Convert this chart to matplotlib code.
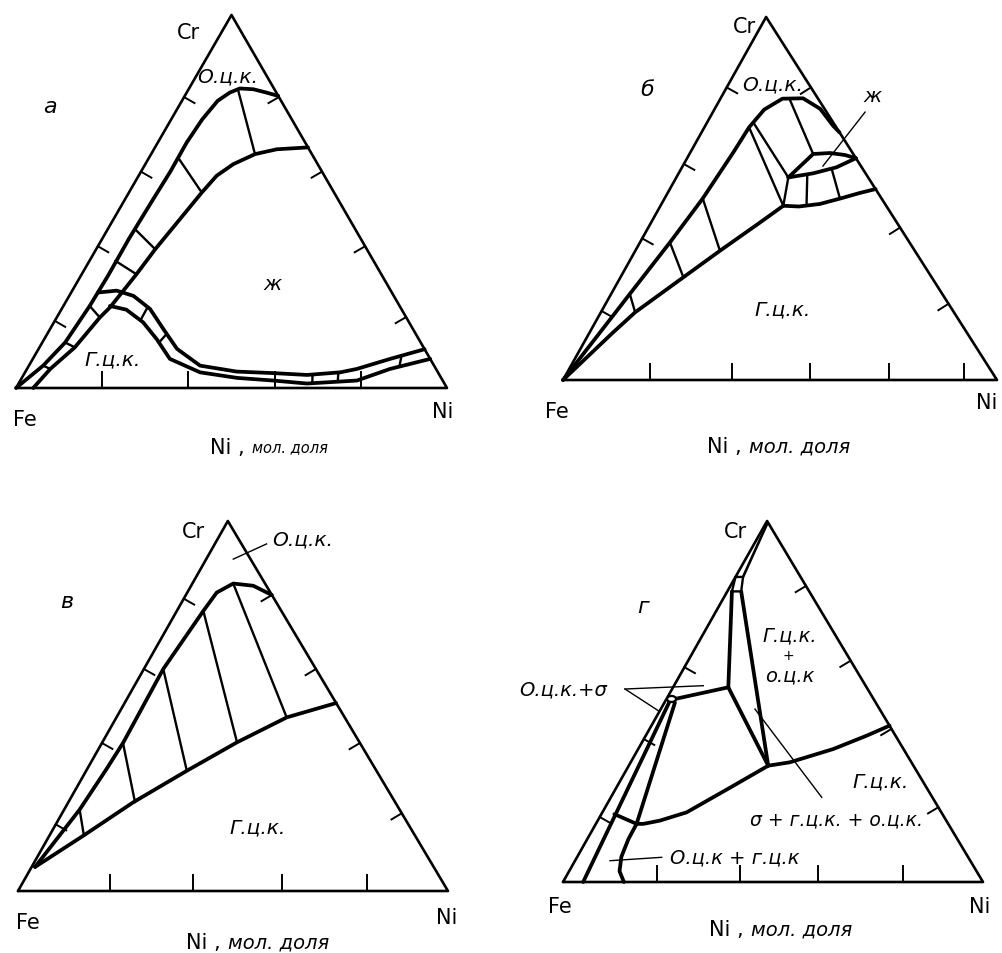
import numpy as np
import matplotlib
matplotlib.use("Agg")
import matplotlib.pyplot as plt
from matplotlib.patches import Ellipse

plt.rcParams['font.family'] = ['DejaVu Sans']

FIG_W, FIG_H = 1003, 954

# ---------------- DATA : points are (Ni, Cr) mole fractions ----------------
# panel а
A_BCC_SOL = [(0.0, 0.0), (0.033, 0.06), (0.053, 0.122), (0.061, 0.22), (0.063, 0.30), (0.062, 0.40),
             (0.065, 0.50), (0.068, 0.58), (0.067, 0.658), (0.072, 0.72), (0.083, 0.77), (0.10, 0.792),
             (0.118, 0.803), (0.15, 0.801), (0.185, 0.792), (0.217, 0.783)]
A_BCC_LIQ = [(0.04, 0.0), (0.054, 0.051), (0.082, 0.109), (0.100, 0.189), (0.110, 0.216), (0.127, 0.305),
             (0.137, 0.372), (0.169, 0.524), (0.181, 0.569), (0.204, 0.600), (0.241, 0.627), (0.285, 0.640),
             (0.355, 0.645)]
A_FCC_LIQ = [(0.062, 0.256), (0.103, 0.261), (0.149, 0.247), (0.205, 0.212), (0.263, 0.158), (0.321, 0.105),
             (0.397, 0.060), (0.49, 0.044), (0.576, 0.040), (0.658, 0.035), (0.731, 0.042), (0.765, 0.051),
             (0.829, 0.078), (0.896, 0.104)]
A_FCC_SOL = [(0.108, 0.22), (0.151, 0.21), (0.207, 0.176), (0.261, 0.131), (0.318, 0.078), (0.406, 0.042),
             (0.50, 0.027), (0.587, 0.02), (0.669, 0.012), (0.781, 0.02), (0.842, 0.051), (0.922, 0.078)]
A_TIES = [((0.115, 0.80), (0.241, 0.627)), ((0.067, 0.618), (0.169, 0.524)), ((0.063, 0.426), (0.137, 0.372)),
          ((0.060, 0.341), (0.127, 0.305)), ((0.061, 0.22), (0.100, 0.189)), ((0.053, 0.122), (0.082, 0.109)),
          ((0.033, 0.06), (0.054, 0.051)), ((0.197, 0.217), (0.198, 0.181)), ((0.277, 0.145), (0.271, 0.122)),
          ((0.670, 0.036), (0.681, 0.013)), ((0.727, 0.042), (0.738, 0.017)), ((0.851, 0.087), (0.861, 0.057))]
A_TICKS_BASE = [0.2, 0.4, 0.6, 0.8]
A_TICKS_LEFT = [0.18, 0.38, 0.58, 0.78]
A_TICKS_RIGHT = [0.19, 0.38, 0.58, 0.78]

# panel б
B_BCC_SOL = [(0.0, 0.0), (0.024, 0.131), (0.043, 0.237), (0.069, 0.379), (0.088, 0.50), (0.099, 0.627),
             (0.103, 0.696), (0.115, 0.745), (0.143, 0.775), (0.19, 0.776), (0.243, 0.747), (0.295, 0.70),
             (0.318, 0.682)]
B_BCC_FCC = [(0.0, 0.0), (0.054, 0.131), (0.079, 0.1865), (0.145, 0.283), (0.195, 0.356), (0.251, 0.434),
             (0.283, 0.48)]
B_FCC_LOWER = [(0.283, 0.48), (0.32, 0.478), (0.365, 0.485), (0.405, 0.50), (0.442, 0.515), (0.474, 0.526)]
B_3PH_1 = [(0.103, 0.696), (0.283, 0.48), (0.258, 0.558), (0.110, 0.706)]
B_LIQ_UPPER = [(0.258, 0.558), (0.285, 0.6226), (0.3225, 0.6253), (0.3597, 0.6198), (0.389, 0.611)]
B_LIQ_LOWER = [(0.258, 0.558), (0.31, 0.5694), (0.356, 0.586), (0.389, 0.611)]
B_TIES = [((0.043, 0.237), (0.079, 0.1865)), ((0.069, 0.379), (0.145, 0.283)), ((0.088, 0.50), (0.195, 0.356)),
          ((0.159, 0.775), (0.285, 0.6226)), ((0.298, 0.566), (0.336, 0.481)), ((0.3466, 0.582), (0.4027, 0.502))]
B_TICKS_BASE = [0.2, 0.389, 0.569, 0.75, 0.923]
B_TICKS_LEFT = [0.19, 0.39, 0.595, 0.806]
B_TICKS_RIGHT = [0.21, 0.42, 0.806]

# panel в
V_BCC_SOL = [(0.008, 0.065), (0.025, 0.159), (0.036, 0.22), (0.045, 0.33), (0.049, 0.40), (0.045, 0.60),
             (0.0616, 0.757), (0.0685, 0.8065), (0.095, 0.831), (0.1445, 0.825), (0.2, 0.8)]
V_BCC_FCC = [(0.008, 0.065), (0.079, 0.1495), (0.151, 0.2397), (0.234, 0.3249), (0.313, 0.4016),
             (0.396, 0.4692), (0.492, 0.508)]
V_TIES = [((0.036, 0.22), (0.08, 0.15)), ((0.049, 0.40), (0.155, 0.24)), ((0.045, 0.60), (0.234, 0.325)),
          ((0.0616, 0.757), (0.311, 0.405)), ((0.095, 0.831), (0.396, 0.469))]
V_TICKS_BASE = [0.214, 0.408, 0.613, 0.811]
V_TICKS_LEFT = [0.18, 0.40, 0.60, 0.79]
V_TICKS_RIGHT = [0.21, 0.40, 0.60, 0.80]

# panel г
G_EDGE_LINE = [(0.004, 0.99), (0.018, 0.845)]
G_BOX = [(0.0, 0.845), (0.018, 0.845), (0.033, 0.805), (0.011, 0.805), (0.0, 0.845)]
G_LINE_L = [(0.011, 0.805), (0.1315, 0.5393)]
G_LINE_R = [(0.033, 0.805), (0.332, 0.3222)]
G_LINE_D = [(0.1315, 0.5393), (0.332, 0.3222)]
G_LINE_E = [(0.1315, 0.5393), (0.02, 0.507)]
G_FCC_BOUND = [(0.031, 0.188), (0.097, 0.161), (0.113, 0.161), (0.148, 0.17), (0.2007, 0.193), (0.276, 0.2665),
               (0.332, 0.3222), (0.379, 0.3316), (0.4646, 0.3684), (0.526, 0.4053), (0.567, 0.433)]
G_L2 = [(0.011, 0.497), (0.048, 0.0)]
G_L3 = [(0.025, 0.497), (0.097, 0.161), (0.098, 0.119), (0.105, 0.07), (0.12, 0.03), (0.145, 0.0)]
G_OVAL = (0.012, 0.507)
G_TICKS_BASE = [0.223, 0.421, 0.608, 0.81]
G_TICKS_LEFT = [0.18, 0.396, 0.595]
G_TICKS_RIGHT = [0.207, 0.424, 0.613, 0.82]

# ---------------- layout (pixel frame of each triangle) ----------------
# Fe corner x, base y, base width, height, apex offset fraction
FRAME_A = (16, 389, 431, 373, 0.50)
FRAME_B = (563, 381, 434, 363, 0.468)
FRAME_V = (18, 892, 430, 370, 0.488)
FRAME_G = (563, 883, 420, 361, 0.486)

LW_EDGE, LW_PHASE, LW_TIE, LW_TICK, LW_PTR = 1.9, 2.7, 1.7, 1.4, 1.0
K = 'black'

fig = plt.figure(figsize=(FIG_W / 100, FIG_H / 100), dpi=100)
fig.patch.set_facecolor('white')


def make_ax(frame):
    fx, fy, W, H, af = frame
    ax = fig.add_axes([0, 0, 1, 1])
    ax.set_xlim(-fx / W, (FIG_W - fx) / W)
    ax.set_ylim((fy - FIG_H) / H, fy / H)
    ax.axis('off')
    ax.patch.set_alpha(0)
    return ax


def cart(frame, pts):
    af = frame[4]
    a = np.asarray(pts, dtype=float)
    return a[:, 0] + af * a[:, 1], a[:, 1]


def line(ax, frame, pts, lw):
    x, y = cart(frame, pts)
    ax.plot(x, y, color=K, lw=lw, solid_capstyle='round', solid_joinstyle='round')


def triangle(ax, frame):
    line(ax, frame, [(0, 0), (1, 0), (0, 1), (0, 0)], LW_EDGE)


def ticks(ax, frame, base, left, right, lb=16, le=12):
    fx, fy, W, H, af = frame
    for t in base:
        ax.plot([t, t], [0, lb / H], color=K, lw=LW_TICK)
    n = np.array([H, -af * W]); n /= np.hypot(*n)
    for t in left:
        x0, y0 = af * t, t
        ax.plot([x0, x0 + n[0] * le / W], [y0, y0 + n[1] * le / H], color=K, lw=LW_TICK)
    n = np.array([-H, (af - 1) * W]); n /= np.hypot(*n)
    for t in right:
        x0, y0 = 1 - t + af * t, t
        ax.plot([x0, x0 + n[0] * le / W], [y0, y0 + n[1] * le / H], color=K, lw=LW_TICK)


def ties(ax, frame, pairs):
    for p, q in pairs:
        line(ax, frame, [p, q], LW_TIE)


def corners(ax, cr_xy, fe_xy, ni_xy):
    kw = dict(fontsize=15, ha='center', va='center')
    ax.text(*cr_xy, 'Cr', **kw)
    ax.text(*fe_xy, 'Fe', **kw)
    ax.text(*ni_xy, 'Ni', **kw)


def xlabel(ax, xy, size_it):
    ax.text(xy[0] - 0.005, xy[1], 'Ni ,', fontsize=15, ha='right', va='center')
    ax.text(xy[0] + 0.012, xy[1], 'мол. доля', fontsize=size_it, style='italic', ha='left', va='center')


PH = dict(fontsize=14.5, style='italic', ha='center', va='center')
LET = dict(fontsize=16, style='italic', ha='center', va='center')

# ---------- panel а ----------
ax = make_ax(FRAME_A); fr = FRAME_A
triangle(ax, fr)
for c in (A_BCC_SOL, A_BCC_LIQ, A_FCC_LIQ, A_FCC_SOL):
    line(ax, fr, c, LW_PHASE)
ties(ax, fr, A_TIES)
ticks(ax, fr, A_TICKS_BASE, A_TICKS_LEFT, A_TICKS_RIGHT)
corners(ax, (0.399, 0.954), (0.021, -0.083), (0.991, -0.062))
xlabel(ax, (0.536, -0.158), 10.5)
ax.text(0.079, 0.756, 'а', **LET)
ax.text(0.492, 0.836, 'О.ц.к.', **PH)
ax.text(0.594, 0.279, 'ж', **PH)
ax.text(0.223, 0.078, 'Г.ц.к.', **PH)

# ---------- panel б ----------
ax = make_ax(FRAME_B); fr = FRAME_B
triangle(ax, fr)
for c in (B_BCC_SOL, B_BCC_FCC, B_FCC_LOWER, B_LIQ_UPPER, B_LIQ_LOWER):
    line(ax, fr, c, LW_PHASE)
line(ax, fr, B_3PH_1, LW_TIE)
ties(ax, fr, B_TIES)
ticks(ax, fr, B_TICKS_BASE, B_TICKS_LEFT, B_TICKS_RIGHT)
corners(ax, (0.419, 0.975), (-0.014, -0.085), (0.977, -0.061))
xlabel(ax, (0.417, -0.182), 14)
ax.text(0.194, 0.802, 'б', **LET)
ax.text(0.484, 0.815, 'О.ц.к.', **PH)
ax.text(0.714, 0.785, 'ж', **PH)
ax.plot([0.696, 0.599], [0.738, 0.5895], color=K, lw=LW_PTR)
ax.text(0.507, 0.196, 'Г.ц.к.', **PH)

# ---------- panel в ----------
ax = make_ax(FRAME_V); fr = FRAME_V
triangle(ax, fr)
for c in (V_BCC_SOL, V_BCC_FCC):
    line(ax, fr, c, LW_PHASE)
ties(ax, fr, V_TIES)
ticks(ax, fr, V_TICKS_BASE, V_TICKS_LEFT, V_TICKS_RIGHT)
corners(ax, (0.407, 0.973), (0.023, -0.084), (0.998, -0.070))
xlabel(ax, (0.477, -0.138), 14)
ax.text(0.114, 0.784, 'в', **LET)
ax.text(0.663, 0.951, 'О.ц.к.', **PH)
ax.plot([0.5007, 0.578], [0.897, 0.938], color=K, lw=LW_PTR)
ax.text(0.558, 0.173, 'Г.ц.к.', **PH)

# ---------- panel г ----------
ax = make_ax(FRAME_G); fr = FRAME_G
triangle(ax, fr)
line(ax, fr, G_EDGE_LINE, LW_EDGE)
line(ax, fr, G_BOX, LW_TIE)
for c in (G_LINE_L, G_LINE_R, G_LINE_D, G_LINE_E, G_FCC_BOUND, G_L3, G_L2):
    line(ax, fr, c, LW_PHASE)
ox, oy = cart(fr, [G_OVAL])
ax.add_patch(Ellipse((ox[0], oy[0]), 9 / fr[2], 6 / fr[3], angle=0, facecolor='white',
                     edgecolor=K, lw=1.6, zorder=5))
ticks(ax, fr, G_TICKS_BASE, G_TICKS_LEFT, G_TICKS_RIGHT)
corners(ax, (0.410, 0.973), (-0.007, -0.066), (0.993, -0.066))
xlabel(ax, (0.436, -0.130), 14)
ax.text(0.190, 0.765, 'г', **LET)
ax.text(0.540, 0.685, 'Г.ц.к.', fontsize=14, style='italic', ha='center', va='center')
ax.text(0.536, 0.630, '+', fontsize=10, style='italic', ha='center', va='center')
ax.text(0.540, 0.574, 'о.ц.к', fontsize=14, style='italic', ha='center', va='center')
ax.text(0.755, 0.280, 'Г.ц.к.', **PH)
ax.text(0.652, 0.175, 'σ + г.ц.к. + о.ц.к.', fontsize=13.5, style='italic', ha='center', va='center')
ax.text(0.41, 0.069, 'О.ц.к + г.ц.к', fontsize=14, style='italic', ha='center', va='center')
ax.text(0.0, 0.535, 'О.ц.к.+σ', fontsize=14, style='italic', ha='center', va='center')
ax.plot([0.1476, 0.334], [0.5346, 0.5438], color=K, lw=LW_PTR)
ax.plot([0.1476, 0.227], [0.5346, 0.4745], color=K, lw=LW_PTR)
ax.plot([0.616, 0.457], [0.2346, 0.479], color=K, lw=LW_PTR)
ax.plot([0.235, 0.112], [0.0684, 0.059], color=K, lw=LW_PTR)

fig.savefig('out.png', dpi=100, facecolor='white')
